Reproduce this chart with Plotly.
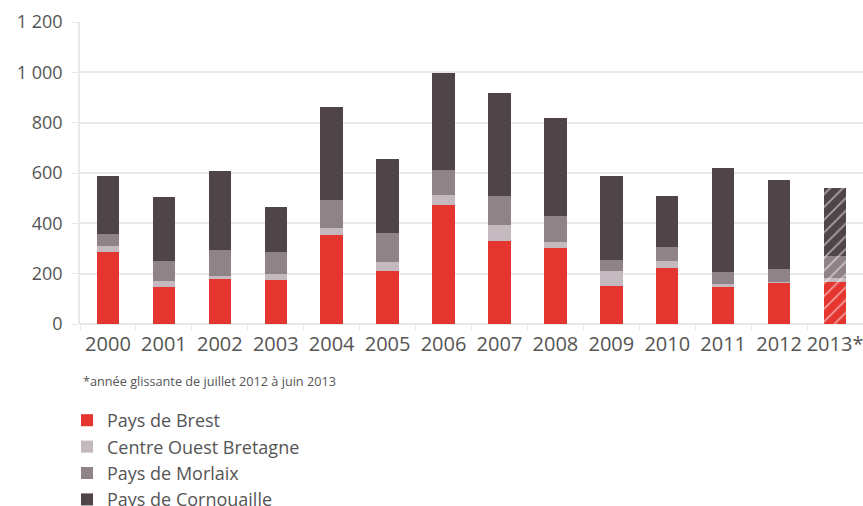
import plotly.graph_objects as go

# Housing completions by territory, stacked per year
years = ["2000", "2001", "2002", "2003", "2004", "2005", "2006",
         "2007", "2008", "2009", "2010", "2011", "2012", "2013*"]

brest =       [287, 146, 179, 173, 352, 209, 472, 328, 303, 150, 222, 148, 163, 165]
centre_ouest = [23,  25,  12,  27,  29,  37,  42,  64,  24,  61,  29,  11,   4,  16]
morlaix =     [49,  80, 104,  88, 113, 117,  96, 118, 104,  45,  53,  48,  51,  90]
cornouaille = [231, 254, 311, 178, 370, 294, 386, 408, 388, 333, 204, 411, 355, 271]

series_names = ["Pays de Brest", "Centre Ouest Bretagne", "Pays de Morlaix", "Pays de Cornouaille"]
series_values = [brest, centre_ouest, morlaix, cornouaille]
series_colors = ["#e5352f", "#c4b9be", "#8f8388", "#4f4549"]

y_tick_values = [0, 200, 400, 600, 800, 1000, 1200]
y_tick_labels = ["0", "200", "400", "600", "800", "1 000", "1 200"]

footnote = "*année glissante de juillet 2012 à juin 2013"

FONT = "Open Sans"
TEXT = "#555555"
GRID = "#e8e8e8"

# last year is a rolling year: hatched
hatch = ["" for _ in years[:-1]] + ["/"]

fig = go.Figure()
for name, vals, col in zip(series_names, series_values, series_colors):
    fig.add_trace(go.Bar(
        x=years, y=vals, name=name,
        marker=dict(color=col, line=dict(width=0),
                    pattern=dict(shape=hatch, fgcolor="white", size=9, solidity=0.2)),
    ))

fig.update_layout(
    barmode="stack",
    bargap=0.6,
    width=863, height=506,
    margin=dict(l=80, r=0, t=22, b=182, autoexpand=False),
    paper_bgcolor="white", plot_bgcolor="white",
    font=dict(family=FONT, color=TEXT, size=18),
    showlegend=True,
    legend=dict(
        xref="container", yref="container",
        x=67 / 863, y=1 - 402 / 506, xanchor="left", yanchor="top",
        font=dict(size=18, color=TEXT), traceorder="normal",
        itemclick=False, bgcolor="rgba(0,0,0,0)", tracegroupgap=0,
    ),
    xaxis=dict(
        type="category", tickson="boundaries", ticks="outside",
        ticklen=5, tickcolor=GRID, showgrid=False, showline=False,
        tickangle=0, ticklabelstandoff=6, tickfont=dict(size=20, color=TEXT),
    ),
    yaxis=dict(
        range=[0, 1200], tickvals=y_tick_values, ticktext=y_tick_labels,
        showgrid=True, gridcolor=GRID, gridwidth=1.5, zeroline=True,
        zerolinecolor=GRID, zerolinewidth=1.5,
        ticks="outside", ticklen=6, tickcolor=GRID,
        showline=True, linecolor=GRID, linewidth=1.5,
        ticklabelstandoff=6, tickfont=dict(size=18, color=TEXT),
    ),
    annotations=[dict(
        text=footnote, xref="paper", yref="paper", x=0, y=0,
        xanchor="left", yanchor="middle", xshift=1, yshift=-57,
        showarrow=False, font=dict(size=12.7, color=TEXT),
    )],
)

fig.write_html("out.html")
